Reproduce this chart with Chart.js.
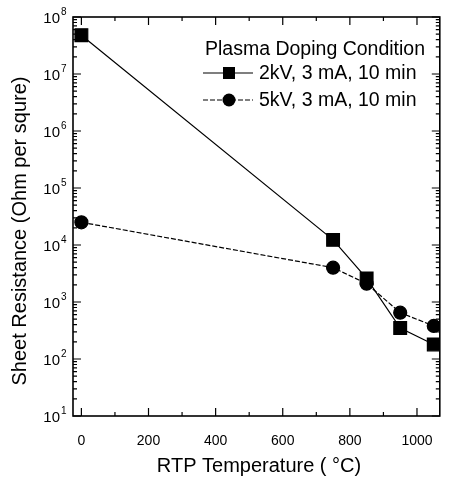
<!DOCTYPE html>
<html><head><meta charset="utf-8">
<script src="https://cdn.jsdelivr.net/npm/chart.js@4/dist/chart.umd.min.js"></script>
<style>html,body{margin:0;padding:0;background:#fff}#wrap{width:450px;height:481px}</style>
</head><body><div id="wrap"><canvas id="c" width="450" height="481"></canvas></div>
<script>
const temperatures = [0, 750, 850, 950, 1050];
const series2kV = [4.8e7, 1.23e4, 2.6e3, 350, 180];
const series5kV = [2.5e4, 4.0e3, 2.1e3, 650, 380];
const seriesNames = ['2kV, 3 mA, 10 min', '5kV, 3 mA, 10 min'];
const legendTitle = 'Plasma Doping Condition';
const xTitle = 'RTP Temperature ( °C)';
const yTitle = 'Sheet Resistance (Ohm per squre)';
const xTicks = [0, 200, 400, 600, 800, 1000];
const yExponents = [1, 2, 3, 4, 5, 6, 7, 8];
const FONT = '"Liberation Sans", Arial, sans-serif';

const framePlugin = {
  id: 'frame',
  afterDraw(chart) {
    const ctx = chart.ctx, a = chart.chartArea;
    const xs = chart.scales.x, ys = chart.scales.y;
    ctx.save();
    ctx.strokeStyle = '#000';
    ctx.lineWidth = 1.6;
    ctx.strokeRect(a.left, a.top, a.right - a.left, a.bottom - a.top);
    ctx.lineWidth = 1.2;
    for (let v = 0; v <= 1000; v += 100) {
      const px = xs.getPixelForValue(v);
      const len = v % 200 === 0 ? 8 : 4;
      ctx.beginPath();
      ctx.moveTo(px, a.bottom); ctx.lineTo(px, a.bottom - len);
      ctx.moveTo(px, a.top); ctx.lineTo(px, a.top + len);
      ctx.stroke();
    }
    for (const e of yExponents) {
      for (let m = 1; m <= 9; m++) {
        if (e === 8 && m > 1) break;
        const v = m * Math.pow(10, e);
        const py = ys.getPixelForValue(v);
        const len = m === 1 ? 8 : 4;
        ctx.beginPath();
        ctx.moveTo(a.left, py); ctx.lineTo(a.left + len, py);
        ctx.moveTo(a.right, py); ctx.lineTo(a.right - len, py);
        ctx.stroke();
      }
    }
    ctx.fillStyle = '#000';
    ctx.textBaseline = 'middle';
    for (const e of yExponents) {
      const py = ys.getPixelForValue(Math.pow(10, e));
      ctx.font = '15px ' + FONT;
      ctx.textAlign = 'right';
      ctx.fillText('10', 60, py + 2);
      ctx.font = '10px ' + FONT;
      ctx.textAlign = 'left';
      ctx.fillText(String(e), 61, py - 5);
    }
    // axis titles
    ctx.font = '20px ' + FONT;
    ctx.textAlign = 'center';
    ctx.fillText(xTitle, 259, 466);
    ctx.save();
    ctx.translate(20, 231);
    ctx.rotate(-Math.PI / 2);
    ctx.fillText(yTitle, 0, 0);
    ctx.restore();
    // legend
    const lx = 203, ly = [73, 100];
    ctx.font = '19.5px ' + FONT;
    ctx.textAlign = 'left';
    ctx.fillText(legendTitle, 205, 50);
    const dsets = chart.data.datasets;
    for (let i = 0; i < 2; i++) {
      const ds = dsets[i];
      ctx.strokeStyle = '#000';
      ctx.lineWidth = 1.2;
      ctx.setLineDash(ds.borderDash || []);
      ctx.beginPath(); ctx.moveTo(lx, ly[i]); ctx.lineTo(lx + 50, ly[i]); ctx.stroke();
      ctx.setLineDash([]);
      ctx.fillStyle = '#000';
      if (ds.pointStyle === 'rect') {
        ctx.fillRect(lx + 26 - 6, ly[i] - 6, 12, 12);
      } else {
        ctx.beginPath(); ctx.arc(lx + 26, ly[i], 6.5, 0, Math.PI * 2); ctx.fill();
      }
      ctx.font = '19.5px ' + FONT;
      ctx.fillText(seriesNames[i], 259, ly[i] + 1);
    }
    ctx.restore();
  }
};

new Chart(document.getElementById('c'), {
  type: 'line',
  data: {
    datasets: [
      { label: seriesNames[0], data: temperatures.map((t, i) => ({x: t, y: series2kV[i]})),
        borderColor: '#000', backgroundColor: '#000', borderWidth: 1.2,
        pointStyle: 'rect', pointRadius: 9, pointHoverRadius: 9, tension: 0 },
      { label: seriesNames[1], data: temperatures.map((t, i) => ({x: t, y: series5kV[i]})),
        borderColor: '#000', backgroundColor: '#000', borderWidth: 1.2, borderDash: [5, 2],
        pointStyle: 'circle', pointRadius: 6.5, pointHoverRadius: 6.5, tension: 0 }
    ]
  },
  options: {
    responsive: false, animation: false, devicePixelRatio: 1,
    layout: { padding: { top: 17, right: 6, left: 0, bottom: 0 } },
    plugins: { legend: { display: false }, tooltip: { enabled: false } },
    scales: {
      x: {
        type: 'linear', min: -25, max: 1068,
        afterBuildTicks: s => { s.ticks = xTicks.map(v => ({value: v})); },
        afterFit: s => { s.height = 65; },
        grid: { display: false }, border: { display: false },
        ticks: { color: '#000', font: { family: FONT, size: 14 }, padding: 9, maxRotation: 0,
                 callback: v => String(v) },
        title: { display: false }
      },
      y: {
        type: 'logarithmic', min: 10, max: 1e8,
        afterBuildTicks: s => { s.ticks = yExponents.map(e => ({value: Math.pow(10, e)})); },
        afterFit: s => { s.width = 73; },
        grid: { display: false }, border: { display: false },
        ticks: { display: false },
        title: { display: false }
      }
    }
  },
  plugins: [framePlugin]
});
</script></body></html>
